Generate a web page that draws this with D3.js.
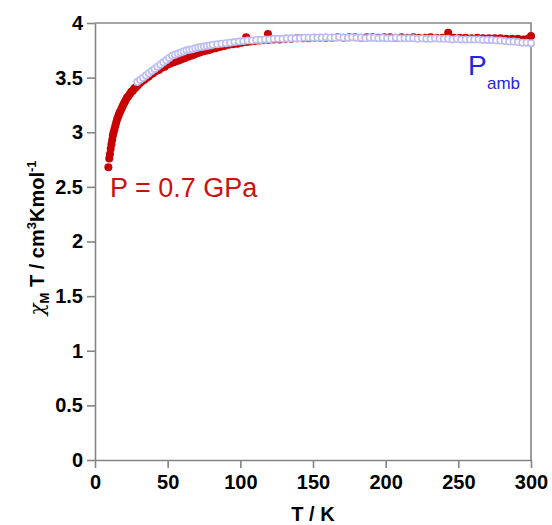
<!DOCTYPE html>
<html>
<head>
<meta charset="utf-8">
<script src="https://cdn.jsdelivr.net/npm/d3@7"></script>
<style>
  html, body { margin: 0; padding: 0; background: #fff; }
  svg { display: block; font-family: "Liberation Sans", Arial, sans-serif; }
</style>
</head>
<body>
<svg id="chart" width="552" height="525"></svg>
<script>
// χM·T versus temperature, measured at 0.7 GPa and at ambient pressure

// P = 0.7 GPa series (temperature in K, χM·T in cm3 K mol-1)
const tempHighP = [
  9.2, 9.8, 10.3, 10.8, 11.3, 11.8, 12.3, 12.8, 13.4, 14.0,
  14.6, 15.2, 15.8, 16.4, 17.0, 17.7, 18.4, 19.1, 19.8, 20.6,
  21.4, 22.2, 23.0, 24.0, 25.0, 26.0, 27.0, 28.0, 29.5, 31,
  32.5, 34, 35.5, 37, 38.5, 40, 42, 44, 46, 48,
  50, 52, 53.5, 54, 56, 58, 60, 62, 64, 66,
  68, 70, 72, 74, 76, 78, 80, 83, 86, 89,
  92, 95, 98, 101, 104, 104.5, 107, 110, 113, 116,
  119, 119.5, 123, 127, 131, 135, 139, 143, 147, 151,
  155, 159, 163, 167, 171, 175, 179, 183, 187, 191,
  195, 199, 203, 207, 211, 215, 219, 223, 227, 231,
  235, 239, 243, 243.5, 247, 251, 255, 259, 263, 267,
  271, 275, 279, 283, 287, 291, 295, 298, 300
];
const chiTHighP = [
  2.68, 2.76, 2.80, 2.85, 2.89, 2.93, 2.97, 3.00, 3.03, 3.06,
  3.09, 3.12, 3.14, 3.16, 3.18, 3.20, 3.22, 3.24, 3.26, 3.28,
  3.30, 3.32, 3.33, 3.35, 3.37, 3.38, 3.40, 3.41, 3.43, 3.45,
  3.47, 3.48, 3.50, 3.51, 3.53, 3.54, 3.56, 3.57, 3.59, 3.60,
  3.62, 3.63, 3.69, 3.64, 3.65, 3.66, 3.67, 3.68, 3.69, 3.70,
  3.71, 3.72, 3.73, 3.74, 3.745, 3.75, 3.76, 3.77, 3.78, 3.79,
  3.80, 3.805, 3.81, 3.82, 3.87, 3.825, 3.83, 3.835, 3.84, 3.845,
  3.90, 3.845, 3.85, 3.85, 3.855, 3.855, 3.86, 3.86, 3.86, 3.865,
  3.865, 3.865, 3.865, 3.87, 3.865, 3.87, 3.87, 3.865, 3.87, 3.87,
  3.865, 3.87, 3.87, 3.865, 3.87, 3.865, 3.87, 3.865, 3.865, 3.87,
  3.865, 3.865, 3.91, 3.865, 3.865, 3.865, 3.865, 3.86, 3.865, 3.86,
  3.86, 3.86, 3.86, 3.855, 3.855, 3.855, 3.85, 3.855, 3.88
];

// Ambient pressure series
const tempAmb = [
  29, 31, 33, 35, 37, 39, 41, 43, 45, 47,
  49, 51, 53, 55, 57, 59, 61, 63, 65, 67,
  69, 71, 73, 75, 77, 79, 81, 84, 87, 90,
  93, 96, 99, 102, 105, 108, 111, 114, 117, 120,
  123, 126, 129, 132, 135, 138, 141, 144, 147, 150,
  153, 156, 159, 162, 165, 168, 171, 174, 177, 180,
  183, 186, 189, 192, 195, 198, 201, 204, 207, 210,
  213, 216, 219, 222, 225, 228, 231, 234, 237, 240,
  243, 246, 249, 252, 255, 258, 261, 264, 267, 270,
  273, 276, 279, 282, 285, 288, 291, 294, 297, 300
];
const chiTAmb = [
  3.46, 3.48, 3.50, 3.52, 3.54, 3.56, 3.58, 3.60, 3.62, 3.64,
  3.66, 3.68, 3.70, 3.71, 3.72, 3.73, 3.74, 3.75, 3.755, 3.76,
  3.77, 3.775, 3.78, 3.785, 3.79, 3.795, 3.80, 3.805, 3.81, 3.815,
  3.82, 3.825, 3.83, 3.835, 3.84, 3.84, 3.845, 3.845, 3.85, 3.85,
  3.855, 3.855, 3.855, 3.86, 3.86, 3.86, 3.86, 3.865, 3.865, 3.865,
  3.865, 3.865, 3.87, 3.865, 3.865, 3.87, 3.865, 3.865, 3.87, 3.865,
  3.865, 3.86, 3.865, 3.865, 3.86, 3.865, 3.86, 3.86, 3.865, 3.86,
  3.86, 3.86, 3.86, 3.855, 3.86, 3.855, 3.855, 3.86, 3.855, 3.855,
  3.855, 3.85, 3.855, 3.85, 3.85, 3.85, 3.85, 3.85, 3.845, 3.845,
  3.845, 3.84, 3.84, 3.835, 3.83, 3.83, 3.825, 3.82, 3.82, 3.815
];

const xTicks = [0, 50, 100, 150, 200, 250, 300];
const yTicks = [0, 0.5, 1, 1.5, 2, 2.5, 3, 3.5, 4];

const svg = d3.select("#chart");
const plotLeft = 95, plotRight = 531, plotTop = 23, plotBottom = 460;

const x = d3.scaleLinear().domain([0, 300]).range([plotLeft, plotRight]);
const y = d3.scaleLinear().domain([0, 4]).range([plotBottom, plotTop]);

const axisGrey = "#858585";

// frame: top and right edges
svg.append("path")
  .attr("d", `M${plotLeft},${plotTop}H${plotRight}V${plotBottom}`)
  .attr("fill", "none")
  .attr("stroke", axisGrey)
  .attr("stroke-width", 1.6);

const fmt = d => String(d);

const gx = svg.append("g")
  .attr("transform", `translate(0,${plotBottom})`)
  .call(d3.axisBottom(x).tickValues(xTicks).tickFormat(fmt).tickSize(8).tickPadding(7).tickSizeOuter(0));
const gy = svg.append("g")
  .attr("transform", `translate(${plotLeft},0)`)
  .call(d3.axisLeft(y).tickValues(yTicks).tickFormat(fmt).tickSize(8).tickPadding(4).tickSizeOuter(0));

[gx, gy].forEach(g => {
  g.select(".domain").attr("stroke", axisGrey).attr("stroke-width", 1.6);
  g.selectAll(".tick line").attr("stroke", axisGrey).attr("stroke-width", 1.6);
  g.selectAll(".tick text")
    .attr("fill", "#000")
    .attr("font-family", "'Liberation Sans', Arial, sans-serif")
    .attr("font-size", 20)
    .attr("font-weight", "bold");
});

// series: high-pressure filled red dots under the open ambient-pressure circles
const highP = tempHighP.map((t, i) => ({ t, v: chiTHighP[i] }));
const amb = tempAmb.map((t, i) => ({ t, v: chiTAmb[i] }));

svg.append("g").selectAll("circle")
  .data(highP).join("circle")
  .attr("cx", d => x(d.t))
  .attr("cy", d => y(d.v))
  .attr("r", 4)
  .attr("fill", "#c80000");

svg.append("g").selectAll("circle")
  .data(amb).join("circle")
  .attr("cx", d => x(d.t))
  .attr("cy", d => y(d.v))
  .attr("r", 3.2)
  .attr("fill", "#ffffff")
  .attr("stroke", "#bcbcf4")
  .attr("stroke-width", 1.6);

// series labels
svg.append("text")
  .attr("x", 110).attr("y", 197)
  .attr("font-size", 27)
  .attr("fill", "#cc1010")
  .text("P = 0.7 GPa");

const pAmb = svg.append("text")
  .attr("x", 468).attr("y", 75)
  .attr("font-size", 28)
  .attr("fill", "#2525e0");
pAmb.append("tspan").text("P");
pAmb.append("tspan").attr("x", 487).attr("y", 88.5).attr("font-size", 17).text("amb");

// axis titles
svg.append("text")
  .attr("x", (plotLeft + plotRight) / 2).attr("y", 521)
  .attr("text-anchor", "middle")
  .attr("font-size", 20)
  .attr("font-weight", "bold")
  .text("T / K");

const yTitle = svg.append("text")
  .attr("transform", "translate(44,238) rotate(-90)")
  .attr("text-anchor", "middle")
  .attr("font-size", 20)
  .attr("font-weight", "bold");
yTitle.append("tspan")
  .attr("font-family", "'DejaVu Serif', serif")
  .attr("font-style", "italic")
  .attr("font-weight", "normal")
  .text("χ");
yTitle.append("tspan").attr("font-size", 13).attr("dy", 5).text("M");
yTitle.append("tspan").attr("dy", -5).text(" T / cm");
yTitle.append("tspan").attr("font-size", 13).attr("dy", -8).text("3");
yTitle.append("tspan").attr("dy", 8).text("Kmol");
yTitle.append("tspan").attr("font-size", 13).attr("dy", -8).text("-1");
</script>
</body>
</html>
